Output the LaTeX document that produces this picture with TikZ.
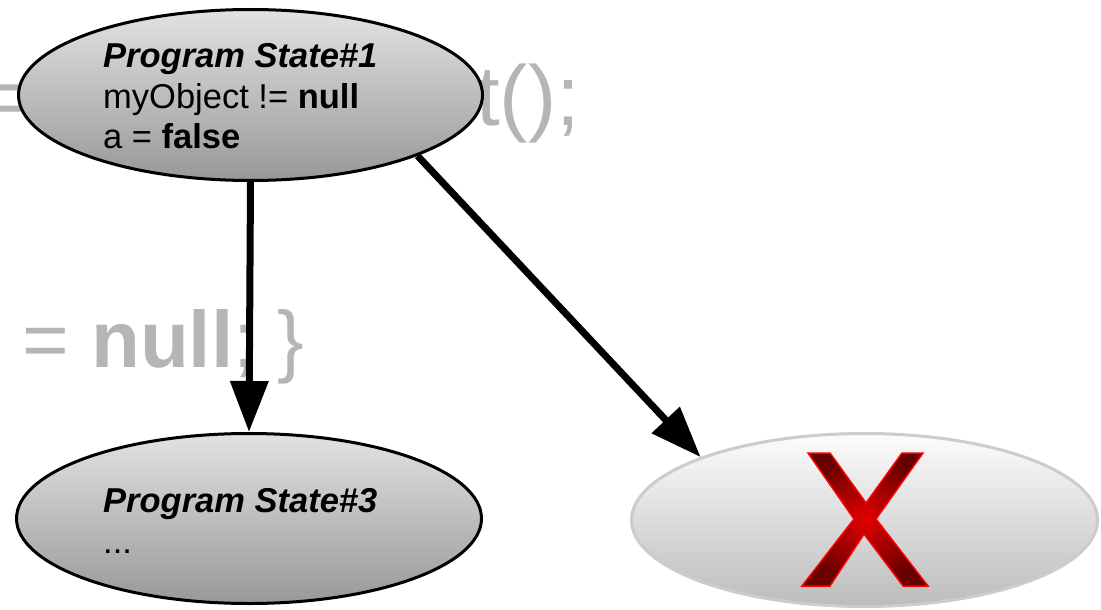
\documentclass[tikz,border=0pt]{standalone}
\usepackage{fontspec}
\setmainfont{Liberation Sans}
\usetikzlibrary{shapes.geometric,arrows.meta}
\definecolor{bgcode}{RGB}{181,181,181}
\definecolor{stTop}{RGB}{226,226,226}
\definecolor{stBot}{RGB}{152,152,152}
\definecolor{xTop}{RGB}{252,252,252}
\definecolor{xBot}{RGB}{188,188,188}
\definecolor{xEdge}{RGB}{204,204,204}
\definecolor{xRedIn}{RGB}{225,0,0}
\definecolor{xRedOut}{RGB}{105,0,0}
\tikzset{
  statebox/.style={ellipse, draw=black, line width=3pt, inner sep=0pt,
    top color=stTop, bottom color=stBot},
  failbox/.style={ellipse, draw=xEdge, line width=3pt, inner sep=0pt,
    top color=xTop, bottom color=xBot},
  codebg/.style={anchor=base west, inner sep=0pt, text=bgcode},
  statetext/.style={anchor=base west, inner sep=0pt, font=\fontsize{34.5}{40}\selectfont},
  flow/.style={line width=7pt, -{Triangle[length=51pt,width=37pt]}}
}
\begin{document}
\begin{tikzpicture}[x=1pt,y=-1pt]
\useasboundingbox (0,0) rectangle (1101,610);
% background code fragments
\begin{scope}
\clip (0,0) rectangle (1101,610);
\node[codebg, font=\fontsize{85}{90}\selectfont] (bgeq) at (-10,126) {=};
\node[codebg, font=\fontsize{85}{90}\selectfont] (bgend) at (476,125) {t();};
\node[codebg, font=\fontsize{80}{86}\selectfont] (bgnull) at (22,367) {= \textbf{null}; \}};
\end{scope}
% ellipses
\node[statebox, minimum width=464pt, minimum height=171pt] (s1) at (250.5,95) {};
\node[statebox, minimum width=465pt, minimum height=170pt] (s3) at (249,518.5) {};
\node[failbox, minimum width=466pt, minimum height=173pt] (sx) at (864.5,520) {};
% arrows
\draw[flow] (s1.south) -- (s3.north);
\draw[flow] (s1.-20.6) -- (sx.159.1);
% texts
\node[statetext] (t1a) at (103,67) {\bfseries\itshape Program State\#1};
\node[statetext] (t1b) at (103,108) {myObject != \textbf{null}};
\node[statetext] (t1c) at (103,148) {a = \textbf{false}};
\node[statetext] (t3a) at (103,512) {\bfseries\itshape Program State\#3};
\node[statetext] (t3b) at (103,553) {...};
% red cross
\shade[inner color=xRedIn, outer color=xRedOut, draw=red, line width=1.5pt, line join=miter]
  (808,453) -- (830,453) -- (866,503) -- (902,453) -- (923,453) -- (876,519)
  -- (928,586) -- (903,586) -- (864,534) -- (830,586) -- (802,586) -- (854,519) -- cycle;
\end{tikzpicture}
\end{document}
